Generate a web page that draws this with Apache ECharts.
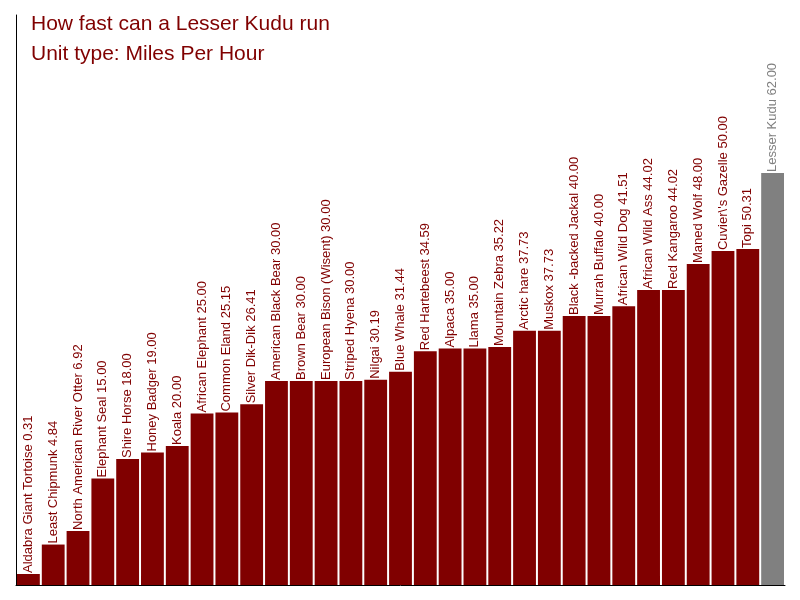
<!DOCTYPE html>
<html>
<head>
<meta charset="utf-8">
<script src="https://cdn.jsdelivr.net/npm/echarts@6/dist/echarts.min.js"></script>
<style>
  html, body { margin: 0; padding: 0; background: #fff; }
  #chart { width: 800px; height: 600px; }
</style>
</head>
<body>
<div id="chart"></div>
<script>
// animals, in the order drawn
var animals = [
  "Aldabra Giant Tortoise", "Least Chipmunk", "North American River Otter", "Elephant Seal",
  "Shire Horse", "Honey Badger", "Koala", "African Elephant", "Common Eland", "Silver Dik-Dik",
  "American Black Bear", "Brown Bear", "European Bison (Wisent)", "Striped Hyena", "Nilgai",
  "Blue Whale", "Red Hartebeest", "Alpaca", "Llama", "Mountain Zebra", "Arctic hare", "Muskox",
  "Black -backed Jackal", "Murrah Buffalo", "African Wild Dog", "African Wild Ass", "Red Kangaroo",
  "Maned Wolf", "Cuvier\\'s Gazelle", "Topi", "Lesser Kudu"
];
// speed, miles per hour
var speeds = [
  0.31, 4.84, 6.92, 15.00, 18.00, 19.00, 20.00, 25.00, 25.15, 26.41,
  30.00, 30.00, 30.00, 30.00, 30.19, 31.44, 34.59, 35.00, 35.00, 35.22,
  37.73, 37.73, 40.00, 40.00, 41.51, 44.02, 44.02, 48.00, 50.00, 50.31, 62.00
];
var highlight = "Lesser Kudu";

var RED = "#800000";
var GREY = "#808080";
// the original bars rise from a floor a little under zero (9px of a 570px axis)
var AXIS_MAX = 87.7;
var FLOOR = AXIS_MAX * 9 / 570;

// build bar items, the highlighted one in grey
var barData = [];
var floorData = [];
speeds.forEach(function(v, i) {
  var col = animals[i] == highlight ? GREY : RED;
  floorData.push({ value: FLOOR, itemStyle: { color: col } });
  barData.push({
    value: v,
    itemStyle: { color: col },
    label: { color: col }
  });
});

var chart = echarts.init(document.getElementById("chart"));
chart.setOption({
  animation: false,
  title: {
    text: "How fast can a Lesser Kudu run\nUnit type: Miles Per Hour",
    left: 26,
    top: 4,
    textStyle: {
      color: RED,
      fontFamily: "Liberation Sans, Arial, sans-serif",
      fontSize: 21,
      fontWeight: "normal",
      lineHeight: 30
    }
  },
  grid: { left: 16, right: 15, top: 15, bottom: 15, containLabel: false },
  xAxis: {
    type: "category",
    data: animals,
    axisLine: { lineStyle: { color: "#000", width: 1 } },
    axisTick: { show: false },
    axisLabel: { show: false }
  },
  yAxis: {
    type: "value",
    min: 0,
    max: AXIS_MAX,
    axisLine: { show: true, lineStyle: { color: "#000", width: 1 } },
    axisTick: { show: false },
    axisLabel: { show: false },
    splitLine: { show: false }
  },
  series: [{
    type: "bar",
    stack: "speed",
    data: floorData,
    silent: true,
    barCategoryGap: "8%",
    label: { show: false }
  }, {
    type: "bar",
    stack: "speed",
    data: barData,
    barCategoryGap: "8%",
    label: {
      show: true,
      position: "top",
      rotate: 90,
      align: "left",
      verticalAlign: "middle",
      distance: 1,
      fontFamily: "Liberation Sans, Arial, sans-serif",
      fontSize: 13,
      formatter: function(p) {
        return p.name + " " + p.value.toFixed(2);
      }
    }
  }]
});
</script>
</body>
</html>
